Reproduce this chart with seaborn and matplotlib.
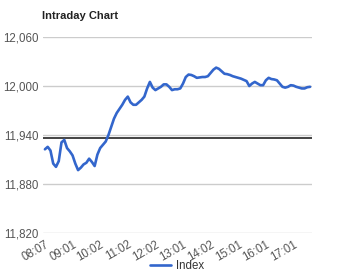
import matplotlib
matplotlib.use("Agg")
import matplotlib.pyplot as plt
import seaborn as sns
import pandas as pd
import numpy as np

# Data
tick_labels = ["08:07", "09:01", "10:02", "11:02", "12:02", "13:01",
               "14:02", "15:01", "16:01", "17:01"]
tick_positions = [0, 10, 20, 30, 40, 50, 60, 70, 80, 90]
index_values = [
    11922.5, 11925.5, 11921, 11905, 11901, 11908, 11931, 11934, 11924, 11920,
    11915, 11905, 11897, 11900, 11904, 11906, 11911, 11907, 11902, 11916,
    11924, 11928, 11932, 11940, 11950, 11960, 11967, 11972, 11977, 11983,
    11987, 11980, 11977, 11977, 11980, 11983, 11987, 11997, 12005, 11998,
    11995, 11997, 11999, 12002, 12002, 11999, 11995, 11996, 11996, 11997,
    12003, 12011, 12014, 12013.5, 12012, 12010, 12010.5, 12011, 12011, 12012,
    12016, 12020, 12022.5, 12021, 12018, 12015, 12014.5, 12013.5, 12012, 12011,
    12010, 12009, 12007.5, 12006, 12000, 12003, 12005, 12003, 12001, 12001,
    12007, 12010, 12008.5, 12008, 12007, 12003, 11999, 11998, 11999, 12001,
    12000.5, 11999, 11998, 11997, 11997, 11998.5, 11999,
]
previous_close = 11936
y_ticks = [11820, 11880, 11940, 12000, 12060]

df = pd.DataFrame({"x": np.arange(len(index_values)), "Index": index_values})

sns.set_theme(style="white")
plt.rcParams["font.family"] = ["Liberation Sans", "DejaVu Sans"]

W, H = 353, 271
fig = plt.figure(figsize=(W / 100, H / 100), dpi=100)
ax = fig.add_axes([43 / W, 1 - 233 / H, (312 - 43) / W, (233 - 37) / H])

for yt in y_ticks:
    ax.axhline(yt, color="#cccccc", lw=1.0, zorder=0)
ax.axhline(previous_close, color="#111111", lw=1.1, zorder=1)

sns.lineplot(data=df, x="x", y="Index", ax=ax, color="#3366cc", lw=1.9,
             label="Index", legend=False, zorder=3)

ax.set_xlim(-0.7, 96.7)
ax.set_ylim(11820, 12060)
ax.set_yticks(y_ticks)
ax.set_yticklabels([f"{v:,}" for v in y_ticks], fontsize=8.3, color="#555555")
ax.set_xticks(tick_positions)
ax.set_xticklabels(tick_labels, fontsize=8.3, color="#555555",
                   rotation=30, ha="right", rotation_mode="anchor")
ax.tick_params(axis="both", length=0, pad=3)
ax.tick_params(axis="x", pad=4)
for s in ax.spines.values():
    s.set_visible(False)
ax.set_xlabel("")
ax.set_ylabel("")

fig.text(42 / W, 1 - 16 / H, "Intraday Chart", fontsize=8, fontweight="bold",
         color="#222222", va="center", ha="left")

handles, labels = ax.get_legend_handles_labels()
fig.legend(handles, labels, loc="center", bbox_to_anchor=(177 / W, 1 - 266 / H),
           frameon=False, fontsize=8.3, handlelength=1.8, handletextpad=0.4,
           labelcolor="#333333")

fig.savefig("out.png", dpi=100)
